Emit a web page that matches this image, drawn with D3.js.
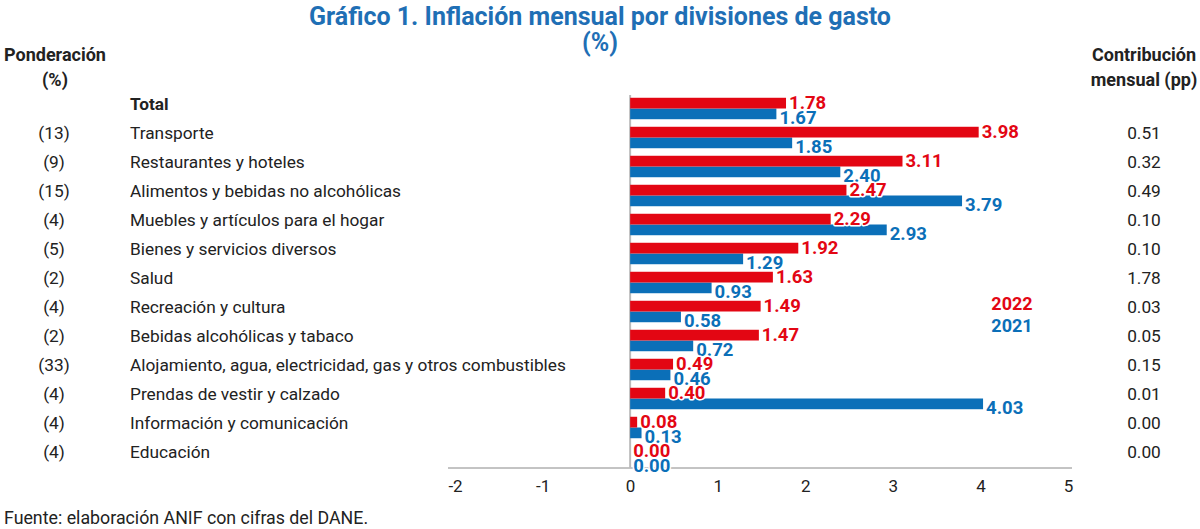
<!DOCTYPE html>
<html>
<head>
<meta charset="utf-8">
<script src="https://cdn.jsdelivr.net/npm/d3@7"></script>
<style>
  body { margin: 0; background: #fff; }
  text { font-family: Roboto, "Liberation Sans", sans-serif; }
</style>
</head>
<body>
<div id="chart"></div>
<script>
var categories = ["Total", "Transporte", "Restaurantes y hoteles", "Alimentos y bebidas no alcohólicas",
  "Muebles y artículos para el hogar", "Bienes y servicios diversos", "Salud", "Recreación y cultura",
  "Bebidas alcohólicas y tabaco", "Alojamiento, agua, electricidad, gas y otros combustibles",
  "Prendas de vestir y calzado", "Información y comunicación", "Educación"];
var weights = ["", "(13)", "(9)", "(15)", "(4)", "(5)", "(2)", "(4)", "(2)", "(33)", "(4)", "(4)", "(4)"];
var values2022 = [1.78, 3.98, 3.11, 2.47, 2.29, 1.92, 1.63, 1.49, 1.47, 0.49, 0.40, 0.08, 0.00];
var values2021 = [1.67, 1.85, 2.40, 3.79, 2.93, 1.29, 0.93, 0.58, 0.72, 0.46, 4.03, 0.13, 0.00];
var contrib = ["", "0.51", "0.32", "0.49", "0.10", "0.10", "1.78", "0.03", "0.05", "0.15", "0.01", "0.00", "0.00"];
var xTicks = [-2, -1, 0, 1, 2, 3, 4, 5];

var red = "#e30613";
var blue = "#0b6fb8";
var dark = "#222";

var svgWidth = 1200;
var svgHeight = 529;

var svg = d3.select("#chart")
  .append("svg")
  .attr("width", svgWidth)
  .attr("height", svgHeight);

var x = d3.scaleLinear().domain([-2, 5]).range([455, 1068]);
var y = d3.scaleBand().domain(categories).range([94, 471]).paddingInner(0.26).paddingOuter(0.13);
var sub = d3.scaleBand().domain(["2022", "2021"]).range([0, y.bandwidth()]);

// title
svg.append("text")
  .attr("x", 600).attr("y", 25)
  .attr("text-anchor", "middle")
  .attr("font-size", "25px").style("font-weight", "bold")
  .attr("fill", "#1f6fb5")
  .text("Gráfico 1. Inflación mensual por divisiones de gasto");
svg.append("text")
  .attr("x", 600).attr("y", 51)
  .attr("text-anchor", "middle")
  .attr("font-size", "25px").style("font-weight", "bold")
  .attr("fill", "#1f6fb5")
  .text("(%)");

// column headers
[["Ponderación", "(%)", 55], ["Contribución", "mensual (pp)", 1144]].forEach(function(h) {
  svg.append("text").attr("x", h[2]).attr("y", 61).attr("text-anchor", "middle")
    .attr("font-size", "18px").style("font-weight", "bold").attr("fill", dark).text(h[0]);
  svg.append("text").attr("x", h[2]).attr("y", 86).attr("text-anchor", "middle")
    .attr("font-size", "18px").style("font-weight", "bold").attr("fill", dark).text(h[1]);
});

// axis
var xAxis = svg.append("g")
  .attr("transform", "translate(0,468)")
  .call(d3.axisBottom(x).tickValues(xTicks).tickSize(0).tickPadding(12).tickFormat(d => String(d)));
xAxis.select(".domain").attr("stroke", "#888").attr("d", "M448,0H1072");
xAxis.selectAll("text").attr("font-size", "17px").attr("fill", dark)
  .style("font-family", "Roboto, sans-serif");

// zero line
svg.append("line")
  .attr("x1", x(0)).attr("x2", x(0))
  .attr("y1", 95).attr("y2", 468)
  .attr("stroke", "#bbb").attr("stroke-width", 2);

// rows
var rows = svg.append("g").selectAll("g")
  .data(categories)
  .enter()
  .append("g");

rows.append("text")
  .attr("x", 130)
  .attr("y", d => y(d) + y.bandwidth() / 2 - 5)
  .attr("dy", ".35em")
  .attr("font-size", "17.3px")
  .style("font-weight", (d, i) => i === 0 ? "bold" : "normal")
  .attr("fill", dark)
  .text(d => d);

rows.append("text")
  .attr("x", 54)
  .attr("y", d => y(d) + y.bandwidth() / 2 - 5)
  .attr("dy", ".35em")
  .attr("text-anchor", "middle")
  .attr("font-size", "17.3px").attr("fill", dark)
  .text((d, i) => weights[i]);

rows.append("text")
  .attr("x", 1144)
  .attr("y", d => y(d) + y.bandwidth() / 2 - 5)
  .attr("dy", ".35em")
  .attr("text-anchor", "middle")
  .attr("font-size", "17.3px").attr("fill", dark)
  .text((d, i) => contrib[i]);

// bars
var series = [["2021", values2021, blue, 3], ["2022", values2022, red, -1]];
series.forEach(function(s) {
  svg.append("g").selectAll("rect")
    .data(categories)
    .enter()
    .append("rect")
    .attr("x", x(0))
    .attr("y", d => y(d) + sub(s[0]))
    .attr("width", (d, i) => x(s[1][i]) - x(0))
    .attr("height", sub.bandwidth())
    .attr("fill", s[2]);
});
series.forEach(function(s) {
  svg.append("g").selectAll("text")
    .data(categories)
    .enter()
    .append("text")
    .attr("x", (d, i) => x(s[1][i]) + 3)
    .attr("y", d => y(d) + sub(s[0]) + sub.bandwidth() / 2 + s[3])
    .attr("dy", ".36em")
    .attr("font-size", "18.5px")
    .style("font-weight", "bold")
    .attr("fill", s[2])
    .attr("stroke", "#fff").attr("stroke-width", 3).attr("paint-order", "stroke")
    .attr("stroke-linejoin", "round")
    .text((d, i) => s[1][i].toFixed(2));
});

// legend
svg.append("text").attr("x", 1012).attr("y", 310).attr("text-anchor", "middle")
  .attr("font-size", "18px").style("font-weight", "bold").attr("fill", red).text("2022");
svg.append("text").attr("x", 1012).attr("y", 332).attr("text-anchor", "middle")
  .attr("font-size", "18px").style("font-weight", "bold").attr("fill", blue).text("2021");

// source
svg.append("text").attr("x", 4).attr("y", 524)
  .attr("font-size", "17.8px").attr("fill", dark)
  .text("Fuente: elaboración ANIF con cifras del DANE.");
</script>
</body>
</html>
